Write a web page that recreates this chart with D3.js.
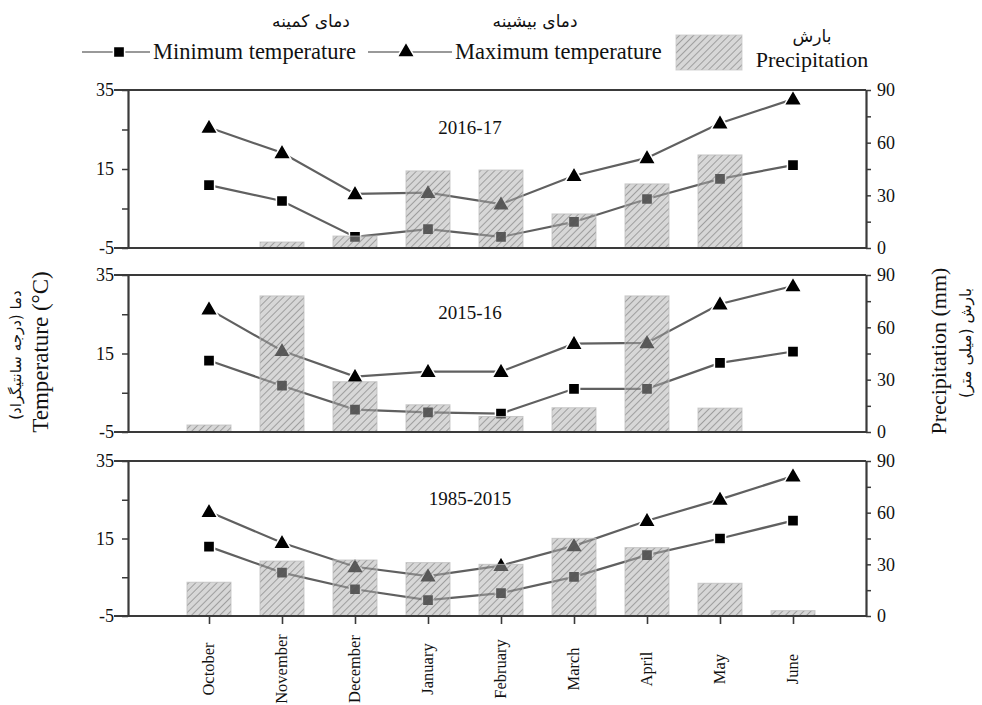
<!DOCTYPE html>
<html>
<head>
<meta charset="utf-8">
<script src="https://cdn.jsdelivr.net/npm/d3@7"></script>
<style>
  body { margin: 0; background: #fff; }
  svg text { font-family: "Liberation Serif", "Times New Roman", serif; fill: #111; }
  .fa { font-family: "DejaVu Sans", sans-serif; }
</style>
</head>
<body>
<svg id="chart"></svg>
<script>
const months = ["October", "November", "December", "January", "February", "March", "April", "May", "June"];
const periods = ["2016-17", "2015-16", "1985-2015"];

// 2016-17
const tmax1617 = [25.5, 19.1, 8.7, 9.0, 6.1, 13.3, 17.8, 26.6, 32.7];
const tmin1617 = [10.9, 6.9, -2.2, -0.2, -2.2, 1.6, 7.4, 12.5, 16.0];
const rain1617 = [0, 3.4, 6.8, 43.9, 44.4, 19.4, 36.5, 53.0, 0];

// 2015-16
const tmax1516 = [26.3, 15.7, 9.1, 10.4, 10.4, 17.5, 17.7, 27.6, 32.2];
const tmin1516 = [13.2, 6.8, 0.7, 0.0, -0.3, 6.0, 6.0, 12.6, 15.5];
const rain1516 = [4.0, 78.0, 28.8, 15.6, 8.9, 13.9, 78.0, 13.7, 0];

// 1985-2015
const tmax8515 = [21.9, 13.9, 7.7, 5.3, 8.0, 13.1, 19.6, 25.1, 31.1];
const tmin8515 = [12.9, 6.2, 1.9, -0.9, 0.9, 5.1, 10.7, 15.0, 19.6];
const rain8515 = [19.6, 31.9, 32.5, 31.0, 30.0, 45.1, 39.7, 19.0, 3.1];

const tempTicks = [-5, 5, 15, 25, 35];
const tempLabels = [-5, 15, 35];
const rainTicks = [0, 15, 30, 45, 60, 75, 90];
const rainLabels = [0, 30, 60, 90];

const width = 982;
const height = 705;
const left = 128, right = 866;
const boxes = [{ top: 90, bottom: 248 }, { top: 275, bottom: 432 }, { top: 461, bottom: 616 }];
const panelData = [
  { tmax: tmax1617, tmin: tmin1617, rain: rain1617 },
  { tmax: tmax1516, tmin: tmin1516, rain: rain1516 },
  { tmax: tmax8515, tmin: tmin8515, rain: rain8515 }
];

const svg = d3.select("#chart").attr("width", width).attr("height", height);

// hatch pattern for the precipitation bars
const defs = svg.append("defs");
const pat = defs.append("pattern")
  .attr("id", "hatch")
  .attr("patternUnits", "userSpaceOnUse")
  .attr("width", 5).attr("height", 5)
  .attr("patternTransform", "rotate(45)");
pat.append("rect").attr("width", 5).attr("height", 5).attr("fill", "rgba(175,175,175,0.5)");
pat.append("line").attr("x1", 0).attr("y1", 0).attr("x2", 0).attr("y2", 5)
  .attr("stroke", "rgba(95,95,95,0.6)").attr("stroke-width", 1.6);

const x = d3.scalePoint().domain(months).range([136, right]).padding(1);
const barW = 44;

const tri = d3.symbol().type(d3.symbolTriangle).size(135);
const sq = d3.symbol().type(d3.symbolSquare).size(125);

boxes.forEach((b, i) => {
  const d = panelData[i];
  const y = d3.scaleLinear().domain([-5, 35]).range([b.bottom, b.top]);
  const yR = d3.scaleLinear().domain([0, 90]).range([b.bottom, b.top]);
  const g = svg.append("g");

  const line = d3.line().x((v, j) => x(months[j])).y(v => y(v));

  // temperature lines
  [d.tmax, d.tmin].forEach(series => {
    g.append("path")
      .attr("d", line(series))
      .attr("fill", "none")
      .attr("stroke", "#606060")
      .attr("stroke-width", 2.2);
  });

  g.selectAll(".tri").data(d.tmax).enter().append("path")
    .attr("transform", (v, j) => `translate(${x(months[j])},${y(v) + 1})`)
    .attr("d", tri)
    .attr("fill", "#000")
    .attr("stroke", "#fff").attr("stroke-width", 1.5);

  g.selectAll(".sq").data(d.tmin).enter().append("path")
    .attr("transform", (v, j) => `translate(${x(months[j])},${y(v)})`)
    .attr("d", sq)
    .attr("fill", "#000")
    .attr("stroke", "#fff").attr("stroke-width", 1.5);

  // bars drawn over the lines, semi transparent
  g.selectAll(".bar").data(d.rain.map((v, j) => [months[j], v]).filter(p => p[1] > 0)).enter().append("rect")
    .attr("x", p => x(p[0]) - barW / 2)
    .attr("y", p => yR(p[1]))
    .attr("width", barW)
    .attr("height", p => b.bottom - yR(p[1]))
    .attr("fill", "url(#hatch)")
    .attr("stroke", "rgba(190,190,190,0.8)")
    .attr("stroke-width", 1);

  // frame: top and bottom lines
  [b.top, b.bottom].forEach(yy => {
    g.append("line")
      .attr("x1", left - 14).attr("x2", right)
      .attr("y1", yy).attr("y2", yy)
      .attr("stroke", "#3a3a3a").attr("stroke-width", 2.2);
  });

  const axL = g.append("g").attr("transform", `translate(${left},0)`)
    .call(d3.axisLeft(y).tickValues(tempTicks).tickSize(6).tickSizeOuter(0).tickPadding(8)
      .tickFormat(v => tempLabels.includes(v) ? String(v) : ""));
  const axR = g.append("g").attr("transform", `translate(${right},0)`)
    .call(d3.axisRight(yR).tickValues(rainTicks).tickSize(5).tickSizeOuter(0).tickPadding(6)
      .tickFormat(v => rainLabels.includes(v) ? String(v) : ""));
  [axL, axR].forEach(ax => {
    ax.select(".domain").attr("stroke", "#3a3a3a").attr("stroke-width", 2.2);
    ax.selectAll(".tick line").attr("stroke", "#3a3a3a").attr("stroke-width", 1.5);
    ax.selectAll(".tick text").style("font-size", "18px").style("font-family", "Liberation Serif, serif").attr("fill", "#111");
  });

  g.append("text")
    .attr("x", 470).attr("y", b.top + 44)
    .attr("text-anchor", "middle")
    .style("font-size", "19px")
    .text(periods[i]);

  // month ticks on the bottom panel
  if (i === boxes.length - 1) {
    const axB = g.append("g").attr("transform", `translate(0,${b.bottom})`)
      .call(d3.axisBottom(x).tickSize(8).tickSizeOuter(0).tickFormat(""));
    axB.select(".domain").remove();
    axB.selectAll(".tick line").attr("stroke", "#3a3a3a").attr("stroke-width", 1.6);

    g.selectAll(".month").data(months).enter().append("text")
      .attr("transform", m => `translate(${x(m) + 5},${b.bottom + 53}) rotate(-90)`)
      .attr("text-anchor", "middle")
      .style("font-size", "16.5px")
      .text(m => m);
  }
});

// axis titles
svg.append("text")
  .attr("transform", "translate(48,352) rotate(-90)")
  .attr("text-anchor", "middle")
  .style("font-size", "23px")
  .text("Temperature (°C)");
svg.append("text")
  .attr("class", "fa")
  .attr("transform", "translate(21,355) rotate(-90)")
  .attr("text-anchor", "middle")
  .style("font-size", "15px")
  .text("دما (درجه سانتیگراد)");
svg.append("text")
  .attr("transform", "translate(946,351) rotate(-90)")
  .attr("text-anchor", "middle")
  .style("font-size", "22px")
  .text("Precipitation (mm)");
svg.append("text")
  .attr("class", "fa")
  .attr("transform", "translate(971,343) rotate(-90)")
  .attr("text-anchor", "middle")
  .style("font-size", "15.5px")
  .text("بارش (میلی متر)");

// legend
const legend = svg.append("g");
const legendLines = [
  { x1: 82, x2: 150, mx: 119, sym: sq, en: "Minimum temperature", tx: 153, fa: "دمای کمینه", fx: 311 },
  { x1: 368, x2: 452, mx: 406, sym: tri, en: "Maximum temperature", tx: 455, fa: "دمای بیشینه", fx: 535 }
];
legendLines.forEach(l => {
  legend.append("line").attr("x1", l.x1).attr("x2", l.x2).attr("y1", 52).attr("y2", 52)
    .attr("stroke", "#999").attr("stroke-width", 2.2);
  legend.append("path").attr("transform", `translate(${l.mx},52)`).attr("d", l.sym)
    .attr("fill", "#000").attr("stroke", "#fff").attr("stroke-width", 1.5);
  legend.append("text").attr("x", l.tx).attr("y", 59).style("font-size", "22.5px").text(l.en);
  legend.append("text").attr("class", "fa").attr("x", l.fx).attr("y", 27)
    .attr("text-anchor", "middle").style("font-size", "17px").text(l.fa);
});
legend.append("rect").attr("x", 676).attr("y", 35).attr("width", 66).attr("height", 35)
  .attr("fill", "url(#hatch)").attr("stroke", "rgba(200,200,200,0.8)");
legend.append("text").attr("class", "fa").attr("x", 812).attr("y", 42)
  .attr("text-anchor", "middle").style("font-size", "17px").text("بارش");
legend.append("text").attr("x", 812).attr("y", 67)
  .attr("text-anchor", "middle").style("font-size", "22px").text("Precipitation");
</script>
</body>
</html>
